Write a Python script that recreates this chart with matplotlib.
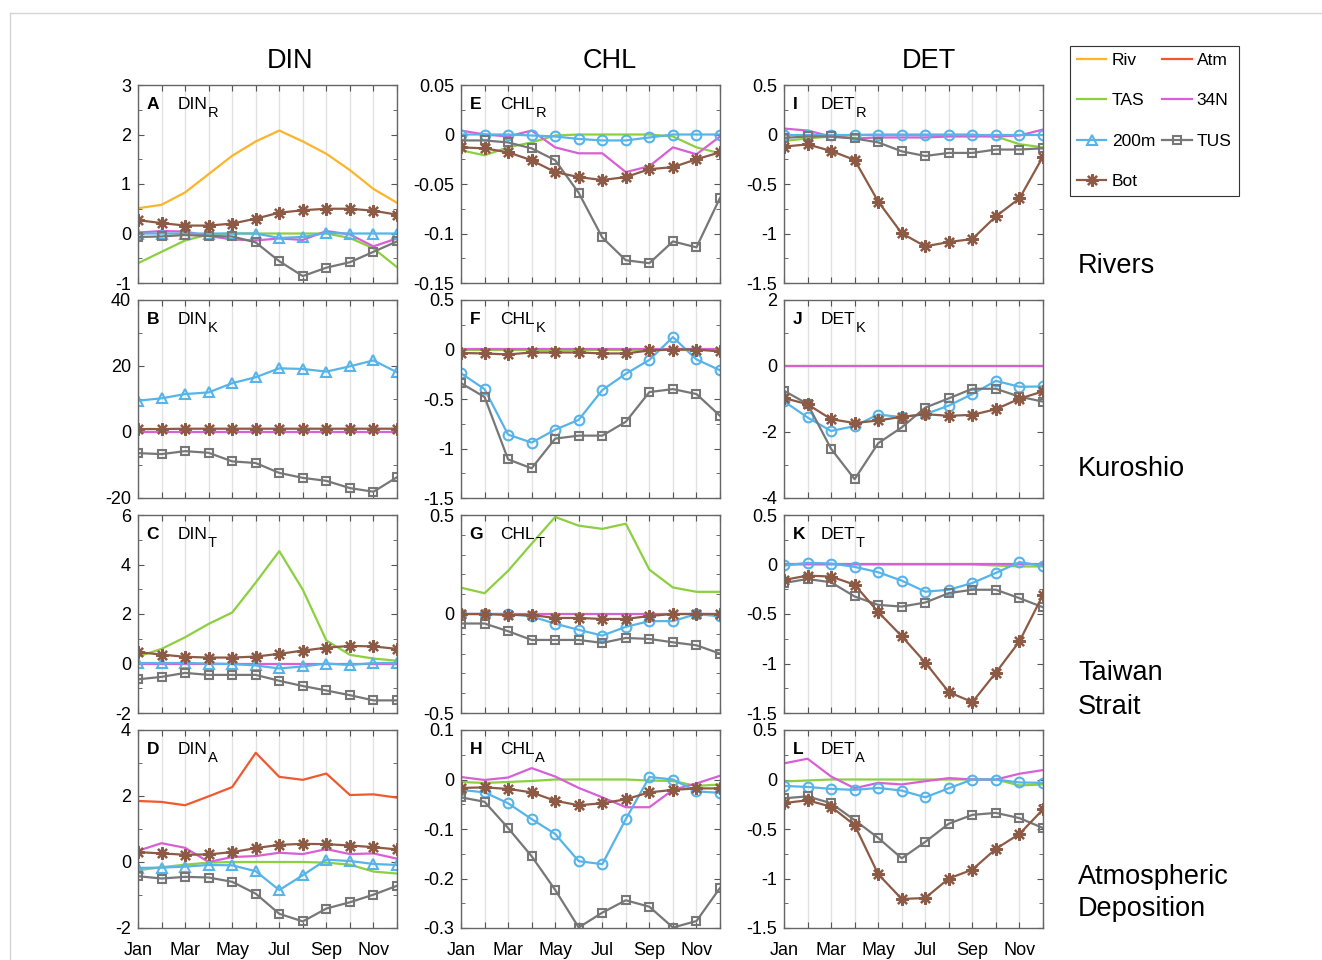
import numpy as np
import matplotlib.pyplot as plt
from matplotlib.lines import Line2D
from matplotlib.ticker import MultipleLocator, FormatStrFormatter

plt.rcParams['font.family'] = ['Liberation Sans', 'DejaVu Sans']
plt.rcParams['axes.unicode_minus'] = False

months = ['Jan', 'Feb', 'Mar', 'Apr', 'May', 'Jun', 'Jul', 'Aug', 'Sep', 'Oct', 'Nov', 'Dec']
month_num = np.arange(1, 13)
series_names = ['Riv', 'Atm', 'TAS', '34N', '200m', 'TUS', 'Bot']
series_colors = {'Riv': '#FDB42A', 'Atm': '#F0592F', 'TAS': '#8CCF3F', '34N': '#D95FD6',
                 '200m': '#56B4E9', 'TUS': '#777777', 'Bot': '#8C5A45'}

# ---- DIN column ----
din_r = {
    'Riv': [0.51, 0.58, 0.83, 1.20, 1.57, 1.86, 2.08, 1.86, 1.61, 1.28, 0.90, 0.62],
    'TAS': [-0.60, -0.37, -0.14, -0.02, 0, 0, 0, 0, 0, -0.09, -0.30, -0.68],
    '34N': [0.02, 0.05, 0.04, -0.05, -0.12, -0.14, -0.10, -0.13, 0.05, -0.02, -0.26, -0.10],
    '200m': [0, 0, 0, 0, 0, 0, -0.09, -0.07, 0.01, 0, 0, 0],
    'TUS': [-0.07, -0.06, -0.03, -0.05, -0.06, -0.18, -0.56, -0.86, -0.69, -0.58, -0.37, -0.16],
    'Bot': [0.27, 0.21, 0.16, 0.16, 0.20, 0.30, 0.42, 0.47, 0.50, 0.50, 0.46, 0.38],
}
din_k = {
    '34N': [0] * 12,
    '200m': [9.5, 10.2, 11.5, 12.0, 14.8, 16.6, 19.3, 19.1, 18.3, 19.9, 21.7, 18.1],
    'TUS': [-6.4, -6.7, -5.8, -6.3, -8.9, -9.4, -12.4, -13.9, -14.8, -17.0, -18.1, -13.7],
    'Bot': [0.9, 0.9, 1.0, 1.0, 1.0, 1.0, 1.0, 1.0, 1.0, 1.0, 1.0, 1.0],
}
din_t = {
    'TAS': [0.28, 0.59, 1.06, 1.60, 2.06, 3.27, 4.54, 2.98, 0.93, 0.35, 0.20, 0.11],
    '34N': [0] * 12,
    '200m': [0.02, 0.02, 0.02, 0.0, -0.02, -0.08, -0.20, -0.12, 0.0, -0.06, 0.02, 0.02],
    'TUS': [-0.64, -0.54, -0.38, -0.46, -0.46, -0.46, -0.70, -0.91, -1.09, -1.28, -1.49, -1.49],
    'Bot': [0.46, 0.36, 0.27, 0.24, 0.24, 0.28, 0.39, 0.52, 0.64, 0.71, 0.69, 0.59],
}
din_a = {
    'Atm': [1.85, 1.82, 1.72, 1.99, 2.27, 3.31, 2.58, 2.49, 2.68, 2.03, 2.05, 1.95],
    'TAS': [-0.25, -0.16, -0.08, -0.02, 0, 0, 0, 0, -0.02, -0.08, -0.29, -0.35],
    '34N': [0.34, 0.57, 0.43, 0.0, 0.15, 0.18, 0.28, 0.24, 0.39, 0.24, 0.26, 0.10],
    '200m': [-0.18, -0.17, -0.14, -0.09, -0.10, -0.28, -0.85, -0.40, 0.07, 0.03, -0.06, -0.09],
    'TUS': [-0.43, -0.50, -0.45, -0.47, -0.60, -0.96, -1.57, -1.80, -1.41, -1.22, -0.99, -0.72],
    'Bot': [0.30, 0.26, 0.22, 0.23, 0.30, 0.42, 0.52, 0.55, 0.54, 0.50, 0.45, 0.38],
}

# ---- CHL column ----
chl_r = {
    'TAS': [-0.016, -0.021, -0.013, -0.008, -0.001, 0, 0, 0, 0, -0.002, -0.013, -0.019],
    '34N': [0.004, 0.0, -0.002, 0.004, -0.013, -0.019, -0.019, -0.038, -0.032, -0.013, -0.020, -0.002],
    '200m': [0, 0, 0, -0.001, -0.002, -0.0045, -0.006, -0.006, -0.003, 0, 0, 0],
    'TUS': [-0.006, -0.006, -0.008, -0.014, -0.026, -0.059, -0.104, -0.127, -0.130, -0.108, -0.114, -0.064],
    'Bot': [-0.013, -0.014, -0.018, -0.026, -0.038, -0.043, -0.046, -0.043, -0.035, -0.033, -0.025, -0.018],
}
chl_k = {
    'TAS': [0] * 12,
    '34N': [0.01] * 12,
    '200m': [-0.24, -0.40, -0.86, -0.94, -0.81, -0.71, -0.41, -0.245, -0.105, 0.125, -0.10, -0.21],
    'TUS': [-0.34, -0.48, -1.11, -1.20, -0.90, -0.87, -0.87, -0.73, -0.43, -0.40, -0.45, -0.67],
    'Bot': [-0.035, -0.04, -0.05, -0.03, -0.03, -0.03, -0.04, -0.04, -0.01, 0.0, 0.0, -0.02],
}
chl_t = {
    'TAS': [0.133, 0.105, 0.218, 0.355, 0.49, 0.446, 0.43, 0.456, 0.224, 0.134, 0.112, 0.112],
    '34N': [0] * 12,
    '200m': [0, 0, 0, -0.012, -0.049, -0.08, -0.109, -0.065, -0.036, -0.036, 0, -0.012],
    'TUS': [-0.048, -0.048, -0.087, -0.131, -0.131, -0.131, -0.146, -0.121, -0.126, -0.143, -0.158, -0.20],
    'Bot': [0, 0, -0.005, -0.005, -0.02, -0.02, -0.025, -0.025, -0.01, 0, 0, 0],
}
chl_a = {
    'TAS': [-0.005, -0.007, -0.005, -0.003, 0, 0, 0, 0, -0.002, -0.003, -0.013, -0.010],
    '34N': [0.005, -0.001, 0.004, 0.023, 0.006, -0.017, -0.036, -0.056, -0.056, -0.021, -0.008, 0.0075],
    '200m': [-0.021, -0.026, -0.048, -0.080, -0.110, -0.165, -0.171, -0.080, 0.005, 0.0, -0.024, -0.027],
    'TUS': [-0.036, -0.045, -0.098, -0.155, -0.223, -0.299, -0.269, -0.244, -0.257, -0.299, -0.286, -0.219],
    'Bot': [-0.017, -0.016, -0.019, -0.026, -0.043, -0.052, -0.048, -0.040, -0.026, -0.021, -0.018, -0.018],
}

# ---- DET column ----
det_r = {
    'TAS': [-0.065, -0.04, -0.02, -0.005, 0, 0, 0, 0, 0, -0.02, -0.098, -0.13],
    '34N': [0.06, 0.04, -0.02, -0.04, -0.03, -0.03, -0.03, -0.02, -0.02, -0.02, -0.01, 0.05],
    '200m': [0] * 12,
    'TUS': [-0.034, -0.02, -0.02, -0.04, -0.08, -0.17, -0.217, -0.186, -0.186, -0.152, -0.152, -0.139],
    'Bot': [-0.122, -0.10, -0.166, -0.257, -0.677, -0.998, -1.13, -1.086, -1.056, -0.826, -0.646, -0.223],
}
det_k = {
    'TAS': [0] * 12,
    '34N': [0.01] * 12,
    '200m': [-1.07, -1.56, -1.97, -1.82, -1.47, -1.55, -1.46, -1.20, -0.85, -0.45, -0.63, -0.62],
    'TUS': [-0.75, -1.15, -2.51, -3.43, -2.34, -1.86, -1.26, -0.98, -0.69, -0.69, -0.93, -1.08],
    'Bot': [-0.97, -1.16, -1.61, -1.73, -1.65, -1.54, -1.46, -1.51, -1.48, -1.31, -0.99, -0.77],
}
det_t = {
    'TAS': [0, 0, 0, 0, 0, 0, 0, 0, 0, -0.01, -0.02, -0.02],
    '34N': [0.01] * 12,
    '200m': [-0.01, 0.017, 0.01, -0.024, -0.078, -0.163, -0.275, -0.255, -0.187, -0.085, 0.024, -0.014],
    'TUS': [-0.187, -0.146, -0.18, -0.323, -0.408, -0.425, -0.384, -0.289, -0.255, -0.255, -0.34, -0.432],
    'Bot': [-0.156, -0.112, -0.122, -0.204, -0.48, -0.724, -0.99, -1.289, -1.39, -1.092, -0.776, -0.306],
}
det_a = {
    'TAS': [-0.02, -0.01, 0, 0, 0, 0, 0, 0, 0, 0, -0.06, -0.05],
    '34N': [0.163, 0.21, 0.03, -0.088, -0.034, -0.05, -0.017, 0.014, 0.0, 0.0, 0.058, 0.095],
    '200m': [-0.065, -0.075, -0.095, -0.105, -0.085, -0.112, -0.18, -0.088, 0.0, 0.0, -0.03, -0.034],
    'TUS': [-0.19, -0.17, -0.24, -0.41, -0.59, -0.796, -0.63, -0.446, -0.357, -0.337, -0.39, -0.49],
    'Bot': [-0.238, -0.21, -0.275, -0.46, -0.956, -1.207, -1.197, -1.0, -0.91, -0.70, -0.55, -0.303],
}

panel_data = [[din_r, chl_r, det_r], [din_k, chl_k, det_k],
              [din_t, chl_t, det_t], [din_a, chl_a, det_a]]
panel_letters = [['A', 'E', 'I'], ['B', 'F', 'J'], ['C', 'G', 'K'], ['D', 'H', 'L']]
column_vars = ['DIN', 'CHL', 'DET']
row_subs = ['R', 'K', 'T', 'A']
row_names = ['Rivers', 'Kuroshio', 'Taiwan\nStrait', 'Atmospheric\nDeposition']
ylims = [[(-1, 3), (-0.15, 0.05), (-1.5, 0.5)],
         [(-20, 40), (-1.5, 0.5), (-4, 2)],
         [(-2, 6), (-0.5, 0.5), (-1.5, 0.5)],
         [(-2, 4), (-0.3, 0.1), (-1.5, 0.5)]]
ysteps = [[(1, 0.5), (0.05, 0.025), (0.5, 0.25)],
          [(20, 10), (0.5, 0.25), (2, 1)],
          [(2, 1), (0.5, 0.1), (0.5, 0.25)],
          [(2, 1), (0.1, 0.05), (0.5, 0.25)]]


def series_style(name, col):
    style = dict(color=series_colors[name], lw=1.6)
    if name == '200m':
        style.update(marker='^' if col == 0 else 'o', ms=7, mfc='none', mew=1.5)
    elif name == 'TUS':
        style.update(marker='s', ms=6, mfc='none', mew=1.5)
    elif name == 'Bot':
        style.update(marker=(8, 2, 0), ms=9, mew=1.6)
    return style


W, H = 1322, 960
fig = plt.figure(figsize=(W / 100, H / 100), dpi=100)

col_left = [138, 461, 784]
row_top = [85, 300, 515, 730]
ax_w, ax_h = 259, 198
var_x = [0.152, 0.152, 0.14]

for r in range(4):
    for c in range(3):
        ax = fig.add_axes([col_left[c] / W, 1 - (row_top[r] + ax_h) / H, ax_w / W, ax_h / H])
        data = panel_data[r][c]
        for name in series_names:
            if name in data:
                ax.plot(month_num, data[name], **series_style(name, c))
        ax.set_xlim(1, 12)
        ax.set_ylim(*ylims[r][c])
        ax.set_xticks(month_num)
        if r == 3:
            ax.set_xticklabels([m if i % 2 == 0 else '' for i, m in enumerate(months)])
        else:
            ax.set_xticklabels([])
        major, minor = ysteps[r][c]
        ax.yaxis.set_major_locator(MultipleLocator(major))
        ax.yaxis.set_minor_locator(MultipleLocator(minor))
        ax.yaxis.set_major_formatter(FormatStrFormatter('%g'))
        ax.grid(axis='x', color='#E2E2E2', lw=1)
        ax.set_axisbelow(True)
        ax.tick_params(which='both', direction='in', top=True, right=True,
                       labelsize=13, color='#555555', pad=5)
        ax.tick_params(axis='x', pad=10)
        ax.tick_params(which='major', length=4)
        ax.tick_params(which='minor', length=3)
        for sp in ax.spines.values():
            sp.set_color('#666666')
            sp.set_linewidth(1)
        ax.text(0.033, 0.878, panel_letters[r][c], transform=ax.transAxes,
                fontsize=12.5, fontweight='bold', va='baseline')
        main = ax.text(var_x[c], 0.878, column_vars[c], transform=ax.transAxes,
                       fontsize=12.5, va='baseline')
        ax.annotate(row_subs[r], xy=(1, 0), xycoords=main, xytext=(0.3, -3.5),
                    textcoords='offset points', fontsize=10.5, va='baseline')

title_x = [290, 610, 929]
for c in range(3):
    fig.text(title_x[c] / W, 1 - 61 / H, column_vars[c], fontsize=19.5,
             ha='center', va='center')

row_centers = [266, 469, 690, 893]
for r in range(4):
    fig.text(1078 / W, 1 - row_centers[r] / H, row_names[r], fontsize=19.5,
             ha='left', va='center', linespacing=1.35)

# legend
handles = {}
for name in series_names:
    handles[name] = Line2D([], [], **series_style(name, 0))
order = ['Riv', 'TAS', '200m', 'Bot', 'Atm', '34N', 'TUS']
leg = fig.legend([handles[n] for n in order], order, loc='upper left',
                 bbox_to_anchor=(1070 / W, 1 - 46 / H), ncol=2, fontsize=12.5,
                 frameon=True, fancybox=False, edgecolor='#333333', framealpha=1,
                 handlelength=1.7, handletextpad=0.3, columnspacing=0.4,
                 labelspacing=1.45, borderpad=0.4, borderaxespad=0)
leg.get_frame().set_linewidth(0.8)

# thin frame around the image
fig.add_artist(Line2D([10 / W, 1], [1 - 13 / H, 1 - 13 / H], color='#D5D5D5', lw=1))
fig.add_artist(Line2D([10 / W, 10 / W], [0, 1 - 13 / H], color='#D5D5D5', lw=1))

fig.savefig('out.png', dpi=100)
